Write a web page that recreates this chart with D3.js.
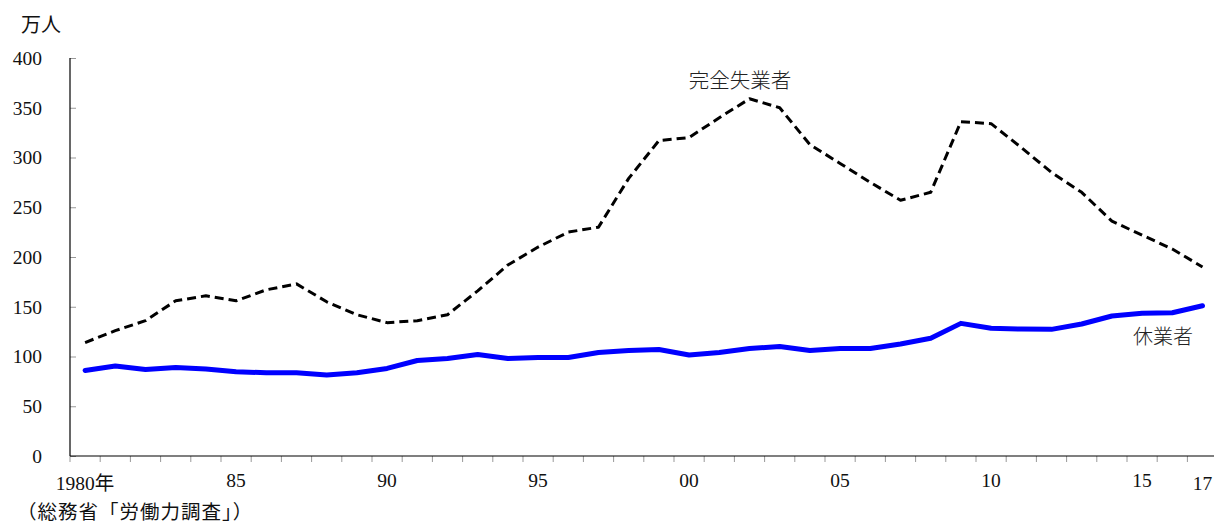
<!DOCTYPE html>
<html>
<head>
<meta charset="utf-8">
<script src="https://cdn.jsdelivr.net/npm/d3@7"></script>
<style>
  html, body { margin: 0; padding: 0; background: #fff; }
  svg { display: block; }
</style>
</head>
<body>
<svg id="chart" width="1214" height="524"></svg>
<script>
const years = d3.range(1980, 2018);
const unemployed = [114, 126, 136, 156, 161, 156, 167, 173, 155, 142,
                    134, 136, 142, 166, 192, 210, 225, 230, 279, 317,
                    320, 340, 359, 350, 313, 294, 275, 257, 265, 336,
                    334, 310, 285, 265, 236, 222, 208, 190];
const absent = [86, 90.5, 87, 89, 87.4, 84.7, 83.7, 83.7, 81.4, 83.7,
                88, 96, 98, 102, 98, 99, 99, 104, 106, 107,
                101.5, 104, 108, 110, 106, 108, 108, 112.6, 118.3, 133.3,
                128.3, 127.6, 127.3, 132.7, 140.7, 143.4, 144, 151];
const yTicks = [0, 50, 100, 150, 200, 250, 300, 350, 400];
const xLabelYears = [1980, 1985, 1990, 1995, 2000, 2005, 2010, 2015, 2017];
const xLabelTexts = ["1980年", "85", "90", "95", "00", "05", "10", "15", "17"];
const unitLabel = "万人";
const sourceLabel = "（総務省「労働力調査」）";
const seriesNames = ["完全失業者", "休業者"];

(function () {
const svg = d3.select("#chart");
const mLeft = 70, mTop = 58, mBottom = 456;
const band = 30.2;

const x = d3.scaleBand().domain(years).range([mLeft, mLeft + band * years.length]).padding(0);
const y = d3.scaleLinear().domain([0, 400]).range([mBottom, mTop]);
const cx = d => x(d) + x.bandwidth() / 2;

const numFont = "'Liberation Serif', 'Noto Sans CJK JP', serif";
const jpFont = "'Noto Sans CJK JP', sans-serif";

// y axis
const yAxis = d3.axisLeft(y).tickValues(yTicks).tickSize(-6).tickPadding(28).tickFormat(d3.format("d"));
const gy = svg.append("g").attr("transform", `translate(${mLeft},0)`).call(yAxis);
gy.attr("font-family", numFont);
gy.select(".domain").remove();
gy.selectAll(".tick line").attr("stroke", "#999").attr("stroke-width", 1);
gy.selectAll(".tick text").attr("font-family", numFont).attr("font-size", 19.5).attr("fill", "#111");
svg.append("line").attr("x1", mLeft).attr("x2", mLeft).attr("y1", y(400)).attr("y2", y(0))
  .attr("stroke", "#000").attr("stroke-width", 1.2);

// x axis ticks (band boundaries)
svg.append("g").selectAll("line").data(years).join("line")
  .attr("x1", d => x(d)).attr("x2", d => x(d))
  .attr("y1", y(0)).attr("y2", y(0) + 6)
  .attr("stroke", "#999").attr("stroke-width", 1);
svg.append("line").attr("x1", mLeft).attr("x2", 1214).attr("y1", y(0)).attr("y2", y(0))
  .attr("stroke", "#000").attr("stroke-width", 1.2);

// x labels
svg.append("g").selectAll("text").data(xLabelYears).join("text")
  .attr("x", d => cx(d))
  .attr("y", (d, i) => (i === 0 || i === xLabelYears.length - 1) ? 490 : 487)
  .attr("text-anchor", "middle")
  .attr("font-family", numFont).attr("font-size", 19.5).attr("fill", "#111")
  .text((d, i) => xLabelTexts[i]);

// unit
svg.append("text").attr("x", 21).attr("y", 32)
  .attr("font-family", jpFont).attr("font-size", 20).attr("fill", "#111").text(unitLabel);

// source
svg.append("text").attr("x", 17).attr("y", 519)
  .attr("font-family", jpFont).attr("font-size", 19.5).attr("letter-spacing", 1)
  .attr("fill", "#111").text(sourceLabel);

// lines
const line = arr => d3.line().x((d, i) => cx(years[i])).y(d => y(d))(arr);

svg.append("path").attr("d", line(absent))
  .attr("fill", "none").attr("stroke", "#0000ff").attr("stroke-width", 5)
  .attr("stroke-linejoin", "round").attr("stroke-linecap", "round");

svg.append("path").attr("d", line(unemployed))
  .attr("fill", "none").attr("stroke", "#000").attr("stroke-width", 3)
  .attr("stroke-dasharray", "9,5").attr("stroke-linejoin", "round");

// series labels
svg.append("text").attr("x", 740).attr("y", 88).attr("text-anchor", "middle")
  .attr("font-family", jpFont).attr("font-size", 20.5).attr("font-weight", 300).attr("fill", "#222").text(seriesNames[0]);
svg.append("text").attr("x", 1163).attr("y", 344).attr("text-anchor", "middle")
  .attr("font-family", jpFont).attr("font-size", 20).attr("font-weight", 300).attr("fill", "#222").text(seriesNames[1]);
})();
</script>
</body>
</html>
